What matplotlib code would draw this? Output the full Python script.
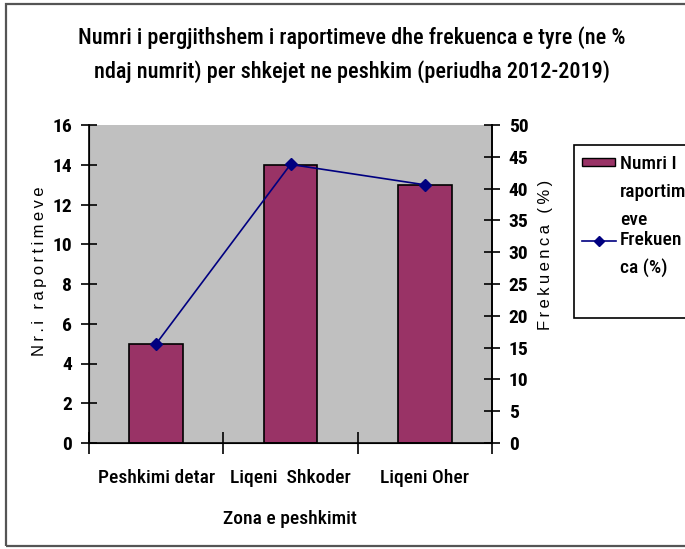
import matplotlib
matplotlib.use("Agg")
import matplotlib.pyplot as plt
from matplotlib.patches import Rectangle
from matplotlib.lines import Line2D

categories = ["Peshkimi detar", "Liqeni  Shkoder", "Liqeni Oher"]
counts = [5, 14, 13]
freq_pct = [15.6, 43.8, 40.6]
left_ticks = [0, 2, 4, 6, 8, 10, 12, 14, 16]
right_ticks = [0, 5, 10, 15, 20, 25, 30, 35, 40, 45, 50]
series_names = [["Numri I", "raportim", "eve"], ["Frekuen", "ca (%)"]]

NARROW = ["Roboto Condensed", "PT Sans Narrow", "Liberation Sans", "DejaVu Sans"]
WIDE = ["Liberation Sans", "DejaVu Sans"]

BAR = "#993366"
LINE = "#000080"
BG = "#C0C0C0"

W, H = 685, 549


def fx(px):
    return px / W


def fy(py):
    return 1 - py / H


def spaced(s):
    return "\u2009".join(s)


fig = plt.figure(figsize=(W / 100, H / 100), dpi=100)
fig.patch.set_facecolor("white")

# outer chart border
fig.patches.append(Rectangle((fx(6), fy(546)), 1.2, (546 - 4) / H,
                             transform=fig.transFigure, fill=False,
                             edgecolor="#555555", linewidth=1.6))

ax = fig.add_axes([fx(89), fy(443), (492 - 89) / W, (443 - 125) / H])
ax.set_facecolor(BG)
x = list(range(len(categories)))
ax.bar(x, counts, width=0.4, color=BAR, edgecolor="black", linewidth=1.2, zorder=2)
ax.set_xlim(-0.5, len(categories) - 0.5)
ax.set_ylim(0, 16)
ax.set_yticks(left_ticks)
ax.set_yticklabels([str(v) for v in left_ticks], family=NARROW, fontweight="bold", fontsize=14)
ax.set_xticks([i - 0.5 for i in range(len(categories) + 1)])
ax.set_xticklabels([])
ax.set_xticks(x, minor=True)
ax.set_xticklabels(categories, minor=True, family=NARROW, fontweight="medium", fontsize=14)
ax.tick_params(axis="x", which="minor", length=0, pad=19)
ax.tick_params(axis="x", which="major", direction="inout", length=16, width=1.2)
ax.tick_params(axis="y", direction="inout", length=12, width=1.2, pad=6)
ax.spines["top"].set_visible(False)
for s in ["left", "bottom", "right"]:
    ax.spines[s].set_linewidth(1.2)
ax.set_ylabel(spaced("Nr.i raportimeve"), family=WIDE, fontsize=12)
ax.yaxis.set_label_coords((47 - 89) / 403, (443 - 271) / 318)
ax.set_xlabel("Zona e peshkimit", family=NARROW, fontweight="medium", fontsize=14)
ax.xaxis.set_label_coords((290 - 89) / 403, (443 - 519) / 318)
ax.xaxis.label.set_va("center")

ax2 = ax.twinx()
ax2.plot(x, freq_pct, color=LINE, marker="D", markersize=6, linewidth=1.2, zorder=3)
ax2.set_ylim(0, 50)
ax2.set_yticks(right_ticks)
ax2.set_yticklabels([str(v) for v in right_ticks], family=NARROW, fontweight="bold", fontsize=14)
ax2.tick_params(axis="y", direction="inout", length=12, width=1.2, pad=6)
ax2.spines["top"].set_visible(False)
ax2.spines["right"].set_linewidth(1.2)
ax2.set_ylabel(spaced("Frekuenca (%)"), family=WIDE, fontsize=12)
ax2.yaxis.set_label_coords((538 - 89) / 403, (443 - 255) / 318)

fig.text(fx(352), fy(38), "Numri i pergjithshem i raportimeve dhe frekuenca e tyre (ne %",
         ha="center", va="center", family=NARROW, fontweight="medium", fontsize=16)
fig.text(fx(352), fy(72), "ndaj numrit) per shkejet ne peshkim (periudha 2012-2019)",
         ha="center", va="center", family=NARROW, fontweight="medium", fontsize=16)

# legend box, running off the right edge of the chart area
fig.patches.append(Rectangle((fx(574), fy(318)), 0.3, (318 - 145) / H,
                             transform=fig.transFigure, facecolor="white",
                             edgecolor="black", linewidth=1.2, zorder=5))
fig.patches.append(Rectangle((fx(582), fy(166)), (615 - 582) / W, 8 / H,
                             transform=fig.transFigure, facecolor=BAR,
                             edgecolor="black", linewidth=1.0, zorder=6))
fig.lines.append(Line2D([fx(582), fx(599), fx(616)], [fy(241)] * 3,
                        transform=fig.transFigure, color=LINE, linewidth=1.2,
                        marker="D", markersize=5, markevery=[1], zorder=6))
baselines = [[169, 197, 225], [245, 273]]
for lines, ys in zip(series_names, baselines):
    for txt, yb in zip(lines, ys):
        fig.text(fx(620), fy(yb), txt, ha="left", va="baseline",
                 family=NARROW, fontweight="medium", fontsize=14, zorder=7)

fig.savefig("out.png", dpi=100)
